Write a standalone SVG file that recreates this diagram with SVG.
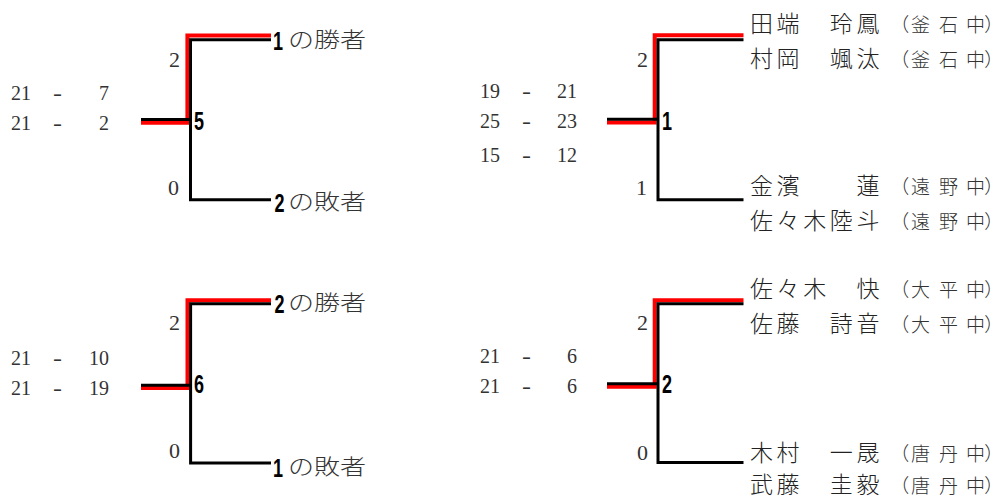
<svg xmlns="http://www.w3.org/2000/svg" width="995" height="499" viewBox="0 0 995 499">
<style>
.red{fill:none;stroke:#ff0000;stroke-width:4}
.blk{fill:none;stroke:#000;stroke-width:3}
.sc{font-family:"Liberation Serif",serif;font-size:20px;fill:#333}
.cnt{font-family:"Liberation Serif",serif;font-size:22px;fill:#333;text-anchor:end}
.bn{font-family:"Liberation Sans",sans-serif;font-weight:bold;font-size:25px;fill:#000}
.jp{font-family:"Noto Sans CJK JP",sans-serif;font-size:21px;fill:#333;font-weight:300}
.nm{font-family:"Noto Sans CJK JP",sans-serif;font-size:23px;fill:#222;letter-spacing:3.6px;font-weight:300}
.sch{font-family:"Noto Sans CJK JP",sans-serif;font-size:19px;fill:#333;font-weight:300;font-feature-settings:"palt"}
</style>
<g id="connectors">
  <path class="red" d="M141,122.7H187.4V35.5H271"/>
  <path class="blk" d="M141,119.5H190.5M190.5,38.2V201.2M190.5,39.7H271M190.5,199.7H271"/>
  <path class="red" d="M607,122.5H654.7V35.3H743.5"/>
  <path class="blk" d="M607,119.2H658M658,38.2V201.2M658,39.7H743.5M658,199.7H743.5"/>
  <path class="red" d="M141,388H187.5V300.3H271"/>
  <path class="blk" d="M141,385.3H190.6M190.6,302.2V464.5M190.6,303.7H271M190.6,463H271"/>
  <path class="red" d="M607,386.7H654.7V300.3H743.5"/>
  <path class="blk" d="M607,383.7H658M658,302.2V464M658,303.7H743.5M658,462.5H743.5"/>
</g>
<g id="match-5">
  <text class="bn" transform="translate(194 130) scale(0.72 1)">5</text>
  <text class="sc" x="11" y="100">21</text><text class="sc" x="53" y="100" textLength="9" lengthAdjust="spacingAndGlyphs">-</text><text class="sc" x="109" y="100" text-anchor="end">7</text>
  <text class="sc" x="11" y="130">21</text><text class="sc" x="53" y="130" textLength="9" lengthAdjust="spacingAndGlyphs">-</text><text class="sc" x="109" y="130" text-anchor="end">2</text>
  <text class="cnt" x="180" y="66.5">2</text>
  <text class="cnt" x="179" y="195">0</text>
</g>
<g id="entry-w1">
  <text class="bn" font-size="27" transform="translate(273 50) scale(0.72 1)">1</text>
  <text class="jp" x="288" y="47" textLength="78" lengthAdjust="spacingAndGlyphs">の勝者</text>
</g>
<g id="entry-l2">
  <text class="bn" transform="translate(274.5 211.5) scale(0.72 1)">2</text>
  <text class="jp" x="288" y="208.5" textLength="78" lengthAdjust="spacingAndGlyphs">の敗者</text>
</g>
<g id="match-6">
  <text class="bn" transform="translate(194 393) scale(0.72 1)">6</text>
  <text class="sc" x="11" y="365">21</text><text class="sc" x="53" y="365" textLength="9" lengthAdjust="spacingAndGlyphs">-</text><text class="sc" x="109" y="365" text-anchor="end">10</text>
  <text class="sc" x="11" y="395">21</text><text class="sc" x="53" y="395" textLength="9" lengthAdjust="spacingAndGlyphs">-</text><text class="sc" x="109" y="395" text-anchor="end">19</text>
  <text class="cnt" x="180" y="330">2</text>
  <text class="cnt" x="180" y="458">0</text>
</g>
<g id="entry-w2">
  <text class="bn" transform="translate(274.5 313) scale(0.72 1)">2</text>
  <text class="jp" x="288" y="310" textLength="78" lengthAdjust="spacingAndGlyphs">の勝者</text>
</g>
<g id="entry-l1">
  <text class="bn" font-size="27" transform="translate(273 477) scale(0.72 1)">1</text>
  <text class="jp" x="288" y="473.5" textLength="78" lengthAdjust="spacingAndGlyphs">の敗者</text>
</g>
<g id="match-1">
  <text class="bn" transform="translate(662 130) scale(0.72 1)">1</text>
  <text class="sc" x="480" y="98">19</text><text class="sc" x="522" y="98" textLength="9" lengthAdjust="spacingAndGlyphs">-</text><text class="sc" x="577" y="98" text-anchor="end">21</text>
  <text class="sc" x="480" y="128">25</text><text class="sc" x="522" y="128" textLength="9" lengthAdjust="spacingAndGlyphs">-</text><text class="sc" x="577" y="128" text-anchor="end">23</text>
  <text class="sc" x="480" y="161.5">15</text><text class="sc" x="522" y="161.5" textLength="9" lengthAdjust="spacingAndGlyphs">-</text><text class="sc" x="577" y="161.5" text-anchor="end">12</text>
  <text class="cnt" x="648" y="67">2</text>
  <text class="cnt" x="647" y="195">1</text>
</g>
<g id="team-kamaishi">
  <text class="nm" x="750" y="32">田端　玲鳳</text>
  <text class="sch" x="899 911 939 966 985" y="32">（釜石中）</text>
  <text class="nm" x="750" y="67">村岡　颯汰</text>
  <text class="sch" x="899 911 939 966 985" y="67">（釜石中）</text>
</g>
<g id="team-tono">
  <text class="nm" x="750" y="194">金濱　　蓮</text>
  <text class="sch" x="899 911 939 966 985" y="194">（遠野中）</text>
  <text class="nm" x="750" y="229">佐々木陸斗</text>
  <text class="sch" x="899 911 939 966 985" y="229">（遠野中）</text>
</g>
<g id="match-2">
  <text class="bn" transform="translate(662 393) scale(0.72 1)">2</text>
  <text class="sc" x="480" y="363">21</text><text class="sc" x="522" y="363" textLength="9" lengthAdjust="spacingAndGlyphs">-</text><text class="sc" x="577" y="363" text-anchor="end">6</text>
  <text class="sc" x="480" y="393">21</text><text class="sc" x="522" y="393" textLength="9" lengthAdjust="spacingAndGlyphs">-</text><text class="sc" x="577" y="393" text-anchor="end">6</text>
  <text class="cnt" x="648" y="330">2</text>
  <text class="cnt" x="648" y="460">0</text>
</g>
<g id="team-ohira">
  <text class="nm" x="750" y="297">佐々木　快</text>
  <text class="sch" x="899 911 939 966 985" y="297">（大平中）</text>
  <text class="nm" x="750" y="332">佐藤　詩音</text>
  <text class="sch" x="899 911 939 966 985" y="332">（大平中）</text>
</g>
<g id="team-toni">
  <text class="nm" x="750" y="461">木村　一晟</text>
  <text class="sch" x="899 911 939 966 985" y="461">（唐丹中）</text>
  <text class="nm" x="750" y="492.5">武藤　圭毅</text>
  <text class="sch" x="899 911 939 966 985" y="492.5">（唐丹中）</text>
</g>
</svg>
